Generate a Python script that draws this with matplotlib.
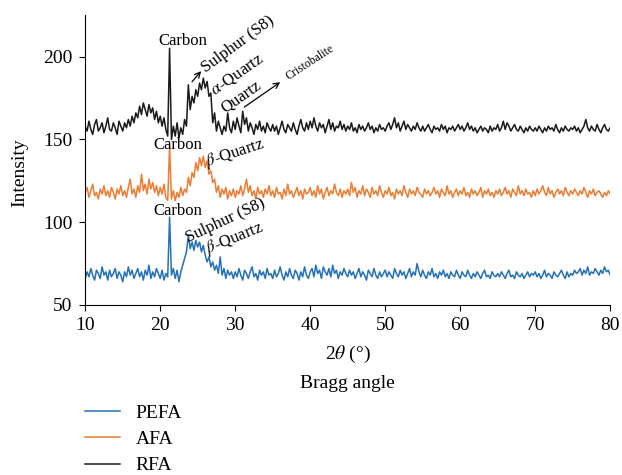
import numpy as np
import matplotlib
matplotlib.use("Agg")
import matplotlib.pyplot as plt

plt.rcParams['font.family'] = ['Liberation Serif', 'DejaVu Serif']
plt.rcParams['mathtext.fontset'] = 'stix'

# Bragg angle grid (2 theta, degrees), 0.25 step
angulo = np.arange(10, 80.001, 0.25)

# RFA (black) intensities
rfa = [
    158, 155, 161, 156, 153, 159, 162, 155, 157, 160, 154, 158, 163, 156, 155, 160, 157, 153, 161, 158,
    155, 160, 157, 162, 158, 164, 160, 166, 163, 170, 165, 172, 168, 164, 171, 166, 169, 162, 167, 160,
    164, 158, 163, 156, 152, 205, 150, 158, 152, 160, 151, 157, 153, 162, 158, 183, 168, 176, 172, 180,
    176, 184, 180, 187, 181, 185, 176, 178, 160, 166, 155, 161, 157, 153, 158, 155, 166, 157, 154, 161,
    156, 163, 158, 154, 167, 159, 163, 155, 160, 157, 153, 159, 156, 161, 155, 158, 154, 160, 157, 155,
    159, 155, 158, 153, 157, 161, 156, 154, 159, 157, 155, 160, 156, 153, 158, 162, 157, 155, 160, 156,
    161, 157, 163, 158, 155, 160, 157, 159, 154, 158, 162, 156, 160, 155, 158, 157, 161, 156, 159, 155,
    158, 156, 160, 155, 157, 154, 159, 156, 158, 155, 157, 160, 156, 158, 154, 157, 155, 159, 156, 157,
    155, 158, 160, 156, 159, 163, 157, 160, 155, 158, 161, 156, 159, 157, 155, 158, 156, 160, 157, 155,
    158, 155, 157, 159, 156, 154, 158, 156, 157, 155, 159, 156, 158, 154, 157, 156, 158, 155, 157, 159,
    156, 158, 155, 157, 160, 156, 158, 155, 157, 154, 156, 158, 155, 157, 156, 154, 158, 155, 157, 156,
    159, 155, 157, 161, 156, 160, 158, 155, 157, 159, 156, 155, 158, 156, 154, 157, 155, 158, 156, 155,
    157, 155, 158, 156, 154, 157, 155, 158, 156, 157, 155, 159, 156, 154, 157, 155, 158, 156, 155, 157,
    156, 158, 155, 157, 154, 156, 158, 162, 157, 155, 158, 156, 155, 159, 156, 154, 157, 159, 156, 155,
    157,
]

# AFA (orange)
afa = [
    118, 121, 115, 119, 123, 116, 118, 114, 120, 117, 122, 116, 119, 115, 121, 118, 114, 120, 117, 122,
    116, 119, 115, 121, 126, 117, 120, 115, 122, 118, 129, 119, 123, 117, 126, 120, 124, 118, 122, 116,
    121, 117, 123, 115, 113, 146, 114, 119, 113, 118, 115, 121, 116, 120, 118, 127, 122, 130, 127, 136,
    131, 139, 134, 140, 133, 137, 129, 131, 124, 126, 118, 122, 115, 120, 117, 121, 114, 119, 116, 120,
    115, 119, 117, 122, 116, 120, 126, 118, 122, 116, 119, 114, 121, 117, 119, 115, 120, 117, 122, 116,
    119, 115, 121, 117, 118, 114, 120, 116, 123, 117, 119, 115, 118, 121, 116, 119, 114, 120, 117, 118,
    121, 116, 119, 115, 122, 117, 120, 114, 118, 121, 116, 119, 117, 123, 118, 116, 120, 115, 119, 117,
    120, 116, 124, 118, 121, 115, 119, 117, 122, 116, 120, 118, 115, 121, 117, 119, 116, 122, 118, 115,
    119, 117, 121, 116, 118, 114, 120, 117, 119, 116, 122, 118, 115, 120, 117, 119, 116, 121, 118, 117,
    115, 120, 117, 119, 116, 118, 121, 117, 119, 115, 120, 118, 116, 122, 117, 119, 115, 118, 120, 116,
    119, 117, 121, 116, 118, 115, 120, 117, 119, 116, 118, 121, 115, 119, 117, 120, 116, 118, 115, 119,
    117, 120, 116, 118, 121, 117, 119, 115, 120, 118, 116, 122, 117, 119, 116, 120, 117, 118, 115, 119,
    116, 120, 117, 119, 122, 118, 116, 121, 117, 119, 115, 118, 120, 117, 119, 116, 121, 118, 116, 119,
    117, 120, 118, 116, 119, 117, 121, 118, 115, 119, 117, 120, 116, 118, 119, 117, 115, 118, 116, 119,
    117,
]

# PEFA (blue)
pefa = [
    66, 70, 67, 72, 68, 65, 71, 69, 66, 73, 68, 70, 65, 71, 67, 69, 72, 66, 70, 68,
    64, 70, 67, 73, 68, 71, 66, 69, 72, 67, 70, 65, 71, 68, 74, 66, 70, 67, 72, 69,
    66, 71, 65, 69, 67, 103, 68, 72, 66, 71, 64, 70, 74, 78, 82, 92, 84, 88, 83, 89,
    85, 88, 82, 86, 80, 76, 79, 73, 76, 71, 74, 69, 79, 68, 72, 66, 71, 68, 70, 66,
    70, 67, 72, 68, 65, 71, 69, 66, 70, 73, 67, 69, 65, 71, 68, 70, 66, 72, 68, 69,
    66, 71, 67, 69, 73, 68, 65, 70, 67, 72, 68, 66, 71, 69, 65, 70, 67, 73, 68, 66,
    70, 72, 67, 74, 69, 71, 66, 73, 70, 68, 72, 67, 74, 69, 71, 66, 70, 68, 72, 69,
    67, 71, 68, 70, 66, 69, 72, 67, 70, 68, 65, 71, 69, 67, 72, 68, 66, 70, 67, 69,
    71, 67, 70, 68, 66, 72, 69, 67, 71, 68, 70, 66, 69, 72, 67, 70, 68, 75, 70, 67,
    71, 68, 66, 70, 68, 72, 67, 69, 66, 70, 68, 71, 67, 69, 66, 70, 68, 67, 71, 68,
    66, 70, 68, 67, 71, 68, 66, 69, 67, 70, 68, 66, 69, 71, 67, 68, 66, 70, 68, 67,
    69, 67, 70, 68, 66, 69, 71, 67, 68, 66, 70, 68, 67, 69, 66, 68, 70, 67, 69, 68,
    70, 67, 69, 66, 68, 71, 67, 69, 68, 66, 70, 68, 67, 69, 71, 68, 66, 70, 67, 69,
    68, 71, 69, 70, 72, 68, 71, 69, 73, 68, 70, 69, 72, 70, 68, 71, 69, 73, 70, 71,
    68,
]

fig = plt.figure(figsize=(6.22, 4.75), dpi=100)
ax = fig.add_axes([0.137, 0.358, 0.844, 0.61])

ax.plot(angulo, pefa, color='#2571b8', lw=1.1, label='PEFA')
ax.plot(angulo, afa, color='#ec7d32', lw=1.1, label='AFA')
ax.plot(angulo, rfa, color='#1a1a1a', lw=1.1, label='RFA')

ax.set_xlim(10, 80)
ax.set_ylim(50, 225)
ax.set_xticks(range(10, 81, 10))
ax.set_yticks([50, 100, 150, 200])
ax.spines['top'].set_visible(False)
ax.spines['right'].set_visible(False)
ax.tick_params(labelsize=14, direction='out', length=4, pad=5)

ax.set_ylabel('Intensity', fontsize=14)
ax.yaxis.set_label_coords(-0.108, 0.455)
ax.set_xlabel(r'2$\theta$ (°)', fontsize=14, labelpad=7)
fig.text(0.5 * (0.137 + 0.981), 1 - 383 / 475, 'Bragg angle', ha='center', va='center', fontsize=14)

# Anotaciones de picos
fs = 12
ax.text(23.0, 209.5, 'Carbon', ha='center', va='center', fontsize=fs)
ax.text(30.4, 207.5, 'Sulphur (S8)', ha='center', va='center', fontsize=fs, rotation=36)
ax.text(30.3, 189.5, r'$\alpha$-Quartz', ha='center', va='center', fontsize=fs, rotation=35)
ax.text(30.8, 176.0, 'Quartz', ha='center', va='center', fontsize=fs, rotation=35)
ax.text(40.0, 196.5, 'Cristobalite', ha='center', va='center', fontsize=8.5, rotation=33)
ax.annotate('', xy=(25.7, 192.5), xytext=(24.0, 183.5),
            arrowprops=dict(arrowstyle='->', color='black', lw=0.9))
ax.annotate('', xy=(36.3, 185.5), xytext=(30.9, 168.5),
            arrowprops=dict(arrowstyle='->', color='black', lw=0.9))

ax.text(22.4, 146.5, 'Carbon', ha='center', va='center', fontsize=fs)
ax.text(30.0, 141.5, r'$\beta$-Quartz', ha='center', va='center', fontsize=fs, rotation=18)

ax.text(22.4, 107.0, 'Carbon', ha='center', va='center', fontsize=fs)
ax.text(28.7, 101.0, 'Sulphur (S8)', ha='center', va='center', fontsize=fs, rotation=25)
ax.text(30.0, 90.5, r'$\beta$-Quartz', ha='center', va='center', fontsize=fs, rotation=22)

fig.legend(loc='upper left', bbox_to_anchor=(85 / 622, 1 - 404 / 475), frameon=False,
           fontsize=14, handlelength=1.8, handletextpad=0.8, labelspacing=0.45,
           borderpad=0, borderaxespad=0)

fig.savefig('out.png', dpi=100)
